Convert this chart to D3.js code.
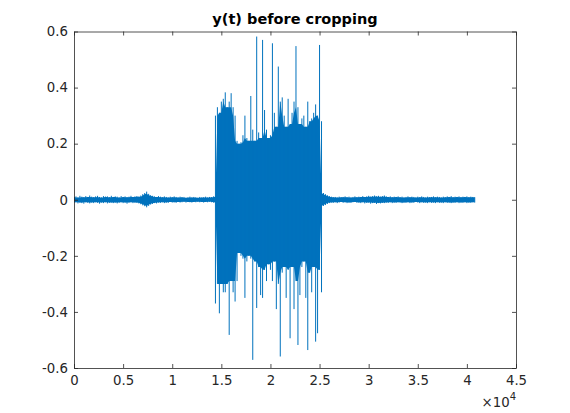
<!DOCTYPE html>
<html>
<head>
<meta charset="utf-8">
<script src="https://cdn.jsdelivr.net/npm/d3@7"></script>
<style>
  body { margin: 0; background: #fff; }
  text { font-family: "DejaVu Sans", sans-serif; }
</style>
</head>
<body>
<div id="chart"></div>
<script>
// signal envelope, one max/min pair every 200 samples
const sampleStep = 200

// quiet part before the sound (samples 0 .. 14200)
const preHi = [
  0.010,0.012,0.008,0.014,0.011,0.009,0.013,0.010,0.015,0.011,
  0.009,0.012,0.014,0.010,0.008,0.013,0.011,0.012,0.009,0.014,
  0.010,0.012,0.011,0.008,0.013,0.010,0.012,0.009,0.011,0.014,
  0.010,0.012,0.013,0.011,0.015,0.020,0.024,0.029,0.021,0.016,
  0.014,0.012,0.010,0.013,0.011,0.009,0.012,0.010,0.008,0.011,
  0.009,0.012,0.010,0.008,0.011,0.009,0.010,0.007,0.009,0.011,
  0.008,0.010,0.009,0.007,0.010,0.008,0.009,0.011,0.008,0.010,
  0.009,0.012]
const preLo = [
  -0.011,-0.009,-0.013,-0.010,-0.012,-0.014,-0.009,-0.011,-0.013,-0.010,
  -0.012,-0.009,-0.011,-0.014,-0.010,-0.012,-0.009,-0.013,-0.011,-0.010,
  -0.012,-0.010,-0.013,-0.011,-0.009,-0.012,-0.010,-0.014,-0.011,-0.009,
  -0.012,-0.010,-0.011,-0.013,-0.016,-0.020,-0.023,-0.027,-0.022,-0.017,
  -0.015,-0.012,-0.013,-0.010,-0.011,-0.009,-0.012,-0.010,-0.011,-0.008,
  -0.010,-0.009,-0.011,-0.008,-0.010,-0.009,-0.007,-0.010,-0.008,-0.009,
  -0.010,-0.008,-0.009,-0.007,-0.009,-0.008,-0.010,-0.008,-0.009,-0.007,
  -0.009,-0.010]

// loud part (samples 14400 .. 25200)
const loudHi = [
  0.30,0.33,0.31,0.35,0.36,0.383,0.33,0.35,0.38,0.33,
  0.30,0.21,0.20,0.205,0.23,0.30,0.22,0.21,0.37,0.25,
  0.21,0.582,0.24,0.22,0.57,0.32,0.25,0.22,0.23,0.558,
  0.31,0.26,0.475,0.35,0.365,0.30,0.26,0.36,0.27,0.31,
  0.35,0.548,0.33,0.27,0.29,0.30,0.26,0.35,0.28,0.29,
  0.31,0.34,0.30,0.552,0.28]
const loudLo = [
  -0.37,-0.30,-0.405,-0.30,-0.33,-0.33,-0.30,-0.482,-0.29,-0.33,
  -0.363,-0.29,-0.19,-0.20,-0.21,-0.35,-0.22,-0.20,-0.21,-0.571,
  -0.22,-0.386,-0.24,-0.34,-0.35,-0.25,-0.29,-0.23,-0.25,-0.29,
  -0.22,-0.39,-0.30,-0.559,-0.26,-0.24,-0.35,-0.25,-0.494,-0.24,
  -0.39,-0.29,-0.518,-0.34,-0.24,-0.22,-0.35,-0.536,-0.26,-0.33,
  -0.24,-0.506,-0.476,-0.25,-0.33]

// quiet part after the sound (samples 25400 .. 40800)
const postHi = [
  0.024,0.020,0.016,0.013,0.011,0.009,0.010,0.008,0.011,0.009,
  0.010,0.012,0.009,0.011,0.008,0.010,0.012,0.009,0.011,0.010,
  0.013,0.010,0.012,0.014,0.011,0.013,0.015,0.012,0.014,0.011,
  0.013,0.015,0.012,0.010,0.012,0.009,0.011,0.010,0.012,0.009,
  0.011,0.008,0.010,0.012,0.009,0.011,0.010,0.008,0.011,0.009,
  0.012,0.010,0.008,0.011,0.009,0.010,0.012,0.009,0.011,0.010,
  0.008,0.011,0.009,0.012,0.010,0.013,0.009,0.011,0.010,0.012,
  0.009,0.011,0.010,0.012,0.009,0.011,0.010,0.009]
const postLo = [
  -0.022,-0.019,-0.015,-0.012,-0.010,-0.011,-0.009,-0.012,-0.010,-0.008,
  -0.011,-0.009,-0.012,-0.010,-0.011,-0.009,-0.008,-0.011,-0.010,-0.012,
  -0.009,-0.013,-0.011,-0.010,-0.014,-0.012,-0.011,-0.015,-0.012,-0.013,
  -0.011,-0.012,-0.010,-0.011,-0.009,-0.012,-0.010,-0.011,-0.009,-0.010,
  -0.012,-0.010,-0.011,-0.009,-0.012,-0.010,-0.011,-0.008,-0.010,-0.012,
  -0.009,-0.011,-0.010,-0.012,-0.009,-0.011,-0.010,-0.012,-0.009,-0.011,
  -0.010,-0.012,-0.009,-0.011,-0.010,-0.012,-0.010,-0.011,-0.009,-0.012,
  -0.010,-0.011,-0.009,-0.012,-0.010,-0.011,-0.009,-0.010]

const xTicks = [0, 5000, 10000, 15000, 20000, 25000, 30000, 35000, 40000, 45000]
const yTicks = [-0.6, -0.4, -0.2, 0, 0.2, 0.4, 0.6]
const titleText = "y(t) before cropping"

const width = 570, height = 413
const margin = { top: 31.5, right: 54, bottom: 45, left: 74 }
const tickLen = 4
const blue = "#0072BD"

const svg = d3.select("#chart").append("svg")
  .attr("width", width)
  .attr("height", height)

const x = d3.scaleLinear()
  .domain([0, 45000])
  .range([margin.left, width - margin.right])
const y = d3.scaleLinear()
  .domain([-0.6, 0.6])
  .range([height - margin.bottom, margin.top])

const hi = preHi.concat(loudHi, postHi)
const lo = preLo.concat(loudLo, postLo)
const env = hi.map((h, i) => {
  // the dense "body" of the waveform is what the neighbouring blocks share,
  // anything above it shows as a thin spike
  const win = d3.range(Math.max(0, i - 1), Math.min(hi.length, i + 2))
  return {
    t: i * sampleStep, hi: h, lo: lo[i],
    bodyHi: d3.min(win, j => hi[j]),
    bodyLo: d3.max(win, j => lo[j])
  }
})

svg.append("defs").append("clipPath").attr("id", "clip")
  .append("rect")
  .attr("x", margin.left).attr("y", margin.top)
  .attr("width", width - margin.left - margin.right)
  .attr("height", height - margin.top - margin.bottom)

const plot = svg.append("g").attr("clip-path", "url(#clip)")

plot.append("path")
  .datum(env)
  .attr("fill", blue)
  .attr("d", d3.area()
    .x(d => x(d.t))
    .y0(d => y(d.bodyLo))
    .y1(d => y(d.bodyHi)))

// one vertical stroke per block, min to max
plot.selectAll(".stroke")
  .data(env)
  .join("line")
  .attr("class", "stroke")
  .attr("x1", d => x(d.t)).attr("x2", d => x(d.t))
  .attr("y1", d => y(d.lo)).attr("y2", d => y(d.hi))
  .attr("stroke", blue)
  .attr("stroke-width", 1)

const fmtY = d => d === 0 ? "0" : (d < 0 ? "-" : "") + Math.abs(d).toFixed(1)
const fmtX = d => d === 0 ? "0" : String(d / 10000)

// axes, ticks pointing inwards like matlab
svg.append("g")
  .attr("transform", `translate(0,${height - margin.bottom})`)
  .call(d3.axisBottom(x).tickValues(xTicks).tickFormat(fmtX)
    .tickSizeInner(-tickLen).tickSizeOuter(0).tickPadding(8))
svg.append("g")
  .attr("transform", `translate(0,${margin.top})`)
  .call(d3.axisTop(x).tickValues(xTicks).tickFormat("")
    .tickSizeInner(-tickLen).tickSizeOuter(0))
svg.append("g")
  .attr("transform", `translate(${margin.left},0)`)
  .call(d3.axisLeft(y).tickValues(yTicks).tickFormat(fmtY)
    .tickSizeInner(-tickLen).tickSizeOuter(0).tickPadding(6))
svg.append("g")
  .attr("transform", `translate(${width - margin.right},0)`)
  .call(d3.axisRight(y).tickValues(yTicks).tickFormat("")
    .tickSizeInner(-tickLen).tickSizeOuter(0))

svg.selectAll(".domain").attr("stroke", "#262626").attr("stroke-width", 0.8)
svg.selectAll(".tick line").attr("stroke", "#262626").attr("stroke-width", 0.8)
svg.selectAll(".tick text")
  .attr("fill", "#262626")
  .style("font-family", "DejaVu Sans")
  .style("font-size", "13.3px")

// exponent label under the x axis
const expo = svg.append("text")
  .attr("x", width - margin.right)
  .attr("y", 407)
  .attr("text-anchor", "end")
  .attr("fill", "#262626")
  .style("font-size", "13.3px")
expo.append("tspan").text("\u00d710")
expo.append("tspan").attr("dy", -7).style("font-size", "10px").text("4")

svg.append("text")
  .attr("x", (margin.left + width - margin.right) / 2)
  .attr("y", 24)
  .attr("text-anchor", "middle")
  .attr("fill", "#000")
  .style("font-size", "14.5px")
  .style("font-weight", "bold")
  .text(titleText)
</script>
</body>
</html>
